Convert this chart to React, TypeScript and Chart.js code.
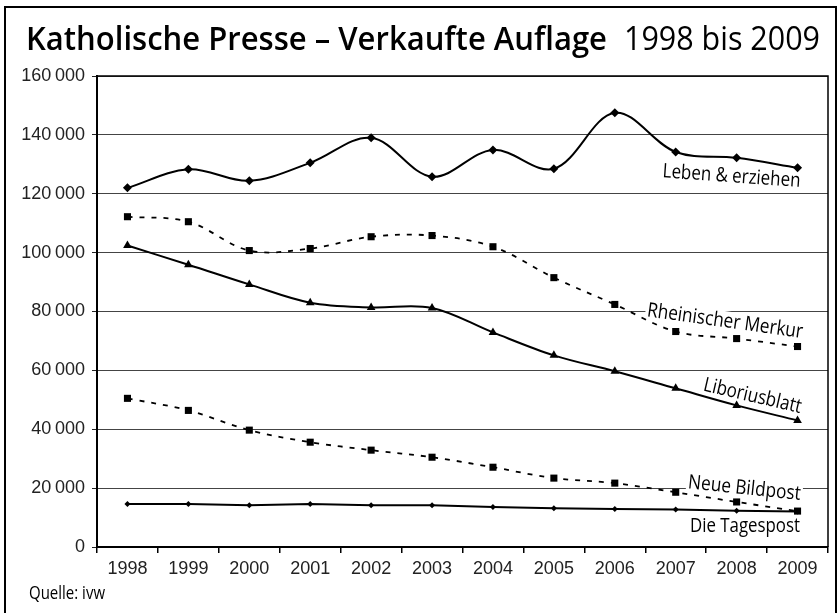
import React, { useEffect, useRef } from "react";
import { Chart, registerables } from "chart.js";

Chart.register(...registerables);

const YEARS = ["1998", "1999", "2000", "2001", "2002", "2003", "2004", "2005", "2006", "2007", "2008", "2009"];
const LEBEN = [122000, 128300, 124400, 130500, 139000, 125800, 134900, 128500, 147500, 134200, 132200, 128800];
const MERKUR = [112200, 110500, 100700, 101400, 105400, 105800, 102000, 91500, 82400, 73200, 70800, 68100];
const LIBORIUS = [102400, 95900, 89200, 83000, 81400, 81200, 72900, 65100, 59700, 53900, 48100, 43000];
const BILDPOST = [50500, 46400, 39700, 35600, 32900, 30500, 27100, 23400, 21700, 18600, 15300, 12200];
const TAGESPOST = [14600, 14600, 14200, 14600, 14200, 14200, 13600, 13200, 12900, 12700, 12300, 12100];
const Y_MIN = 0;
const Y_MAX = 160000;
const Y_STEP = 20000;

const TITLE_BOLD = "Katholische Presse – Verkaufte Auflage";
const TITLE_REG = "1998 bis 2009";
const SOURCE = "Quelle: ivw";

const LABELS = [
  { text: "Leben & erziehen", x: 800, y: 187, angle: 4, width: 138 },
  { text: "Rheinischer Merkur", x: 802, y: 338, angle: 8, width: 157 },
  { text: "Liboriusblatt", x: 800, y: 413, angle: 13, width: 100 },
  { text: "Neue Bildpost", x: 800, y: 500, angle: 6, width: 113 },
  { text: "Die Tagespost", x: 800, y: 532, angle: 0, width: 110 },
];

const CONDENSED = "'Open Sans', 'Liberation Sans', sans-serif";
const TICKFONT = "'Liberation Sans', Arial, sans-serif";

function fmt(v: number): string {
  if (v === 0) return "0";
  const th = Math.floor(v / 1000);
  return th + "\u2009" + "000";
}

function fitText(ctx: CanvasRenderingContext2D, text: string, x: number, y: number, font: string, width: number) {
  ctx.save();
  ctx.font = font;
  const w = ctx.measureText(text).width;
  ctx.translate(x, y);
  ctx.scale(width / w, 1);
  ctx.textAlign = "left";
  ctx.textBaseline = "alphabetic";
  ctx.fillStyle = "#000";
  ctx.fillText(text, 0, 0);
  ctx.restore();
}

const decor = {
  id: "decor",
  beforeDraw(chart: any) {
    const ctx = chart.ctx;
    ctx.save();
    ctx.fillStyle = "#fff";
    ctx.fillRect(0, 0, chart.width, chart.height);
    ctx.restore();
  },
  beforeDatasetsDraw(chart: any) {
    const ctx = chart.ctx as CanvasRenderingContext2D;
    for (const l of LABELS) {
      ctx.save();
      const font = `400 20px ${CONDENSED}`;
      ctx.font = font;
      const w = ctx.measureText(l.text).width;
      ctx.translate(l.x, l.y);
      ctx.rotate((l.angle * Math.PI) / 180);
      ctx.scale(l.width / w, 1);
      ctx.fillStyle = "#fff";
      ctx.fillRect(-w - 2, -16, w + 4, 17);
      ctx.fillStyle = "#000";
      ctx.textAlign = "right";
      ctx.textBaseline = "alphabetic";
      ctx.fillText(l.text, 0, 0);
      ctx.restore();
    }
  },
  afterDraw(chart: any) {
    const ctx = chart.ctx as CanvasRenderingContext2D;
    const a = chart.chartArea;
    ctx.save();
    ctx.strokeStyle = "#000";
    ctx.lineWidth = 1.5;
    ctx.beginPath();
    ctx.moveTo(a.left, a.top);
    ctx.lineTo(a.right, a.top);
    ctx.lineTo(a.right, a.bottom);
    ctx.stroke();
    ctx.lineWidth = 2;
    ctx.strokeRect(5, 7, 831, 640);
    ctx.restore();
    fitText(ctx, TITLE_BOLD, 26, 50, `600 32px ${CONDENSED}`, 581);
    fitText(ctx, TITLE_REG, 624, 50, `400 32px ${CONDENSED}`, 196);
    fitText(ctx, SOURCE, 29, 599, `400 18px ${CONDENSED}`, 76);
  },
};

export default function App() {
  const ref = useRef<HTMLCanvasElement | null>(null);
  useEffect(() => {
    document.body.style.margin = "0";
    const canvas = ref.current!;
    const common = {
      borderColor: "#000",
      pointBackgroundColor: "#000",
      pointBorderColor: "#000",
      pointBorderWidth: 0,
      fill: false,
      tension: 0.35,
      borderWidth: 2,
    };
    const chart = new Chart(canvas, {
      type: "line",
      data: {
        labels: YEARS,
        datasets: [
          { ...common, label: "Leben & erziehen", data: LEBEN, pointStyle: "rectRot", pointRadius: 4.5 },
          { ...common, label: "Rheinischer Merkur", data: MERKUR, pointStyle: "rect", pointRadius: 5, borderDash: [5, 7], borderWidth: 1.8 },
          { ...common, label: "Liboriusblatt", data: LIBORIUS, pointStyle: "triangle", pointRadius: 5 },
          { ...common, label: "Neue Bildpost", data: BILDPOST, pointStyle: "rect", pointRadius: 5, borderDash: [5, 7], borderWidth: 1.8 },
          { ...common, label: "Die Tagespost", data: TAGESPOST, pointStyle: "rectRot", pointRadius: 3, tension: 0 },
        ],
      },
      options: {
        responsive: false,
        animation: false,
        devicePixelRatio: 1,
        layout: { padding: { left: 0, top: 76, right: 9, bottom: 26 } },
        plugins: { legend: { display: false }, tooltip: { enabled: false }, title: { display: false } },
        scales: {
          x: {
            offset: true,
            afterFit: (s: any) => { s.height = 40; },
            grid: { offset: true, drawOnChartArea: false, tickLength: 6, tickColor: "#000", lineWidth: 1.5 },
            border: { color: "#000", width: 2 },
            ticks: { color: "#222", font: { family: TICKFONT, size: 18 }, padding: 5, maxRotation: 0, autoSkip: false },
          },
          y: {
            min: Y_MIN,
            max: Y_MAX,
            afterFit: (s: any) => { s.width = 97; },
            grid: { color: "#444", lineWidth: 1, tickLength: 5, tickColor: "#222" },
            border: { color: "#000", width: 2 },
            ticks: { stepSize: Y_STEP, color: "#222", font: { family: TICKFONT, size: 18 }, padding: 7, callback: (v: any) => fmt(Number(v)) },
          },
        },
      },
      plugins: [decor],
    });
    return () => chart.destroy();
  }, []);
  return <canvas ref={ref} width={837} height={613} style={{ display: "block", width: 837, height: 613 }} />;
}
